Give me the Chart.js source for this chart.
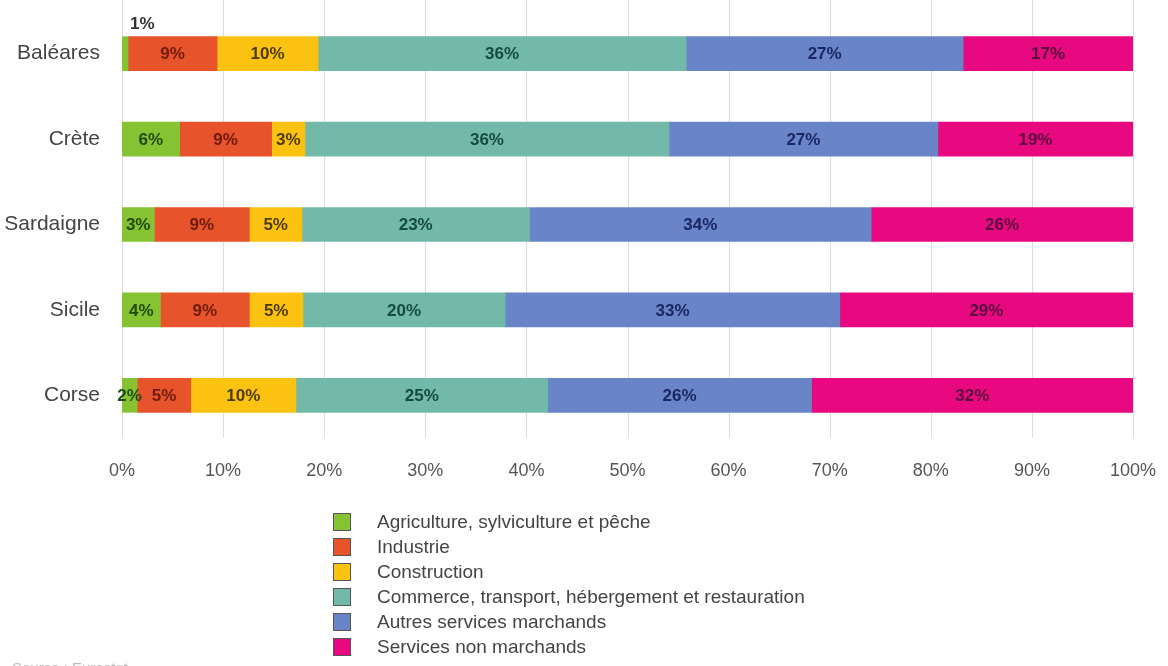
<!DOCTYPE html>
<html>
<head>
<meta charset="utf-8">
<script src="https://cdn.jsdelivr.net/npm/chart.js@4/dist/chart.umd.min.js"></script>
<style>
  html, body { margin: 0; padding: 0; background: #fff; }
  #wrap { position: relative; width: 1168px; height: 666px; overflow: hidden; }
  #legend { position: absolute; left: 333px; top: 509px; font-family: "Liberation Sans", Arial, sans-serif; font-size: 19px; color: #444; }
  #legend div { height: 25px; line-height: 25px; white-space: nowrap; }
  #legend span { display: inline-block; width: 16px; height: 16px; border: 1px solid #555; vertical-align: -3px; margin-right: 26px; }
  #source { position: absolute; left: 12px; top: 659px; font-family: "Liberation Sans", Arial, sans-serif; font-size: 15px; color: #bbb; }
</style>
</head>
<body>
<div id="wrap">
  <canvas id="myChart" width="1168" height="666"></canvas>
  <div id="legend"></div>
  <div id="source">Source : Eurostat</div>
</div>
<script>
var categories = ['Baléares', 'Crète', 'Sardaigne', 'Sicile', 'Corse'];
var seriesNames = [
    'Agriculture, sylviculture et pêche',
    'Industrie',
    'Construction',
    'Commerce, transport, hébergement et restauration',
    'Autres services marchands',
    'Services non marchands'
];
// shares in %
var agriculture = [0.6, 5.7, 3.2, 3.8, 1.5];
var industrie = [8.8, 9.1, 9.4, 8.8, 5.3];
var construction = [10.0, 3.3, 5.2, 5.3, 10.4];
var commerce = [36.4, 36.0, 22.5, 20.0, 24.9];
var autresServices = [27.4, 26.6, 33.8, 33.1, 26.1];
var nonMarchands = [16.8, 19.3, 25.9, 29.0, 31.8];
var xTicks = [0, 10, 20, 30, 40, 50, 60, 70, 80, 90, 100];

var colors = ['#86c332', '#e7542b', '#fbc212', '#72b9a9', '#6a84c8', '#e8087f'];
var labelColors = ['#1f4a12', '#6e1a0c', '#4e3a05', '#154a40', '#1a2762', '#5a0b3d'];
var allSeries = [agriculture, industrie, construction, commerce, autresServices, nonMarchands];

var FONT = '"Liberation Sans", Arial, sans-serif';

var gridPlugin = {
    id: 'gridLines',
    beforeDatasetsDraw: function (chart) {
        var ctx = chart.ctx;
        var xs = chart.scales.x;
        ctx.save();
        ctx.strokeStyle = '#d6dce8';
        ctx.lineWidth = 1;
        xTicks.forEach(function (t) {
            var x = Math.round(xs.getPixelForValue(t)) + 0.5;
            ctx.beginPath();
            ctx.moveTo(x, 0);
            ctx.lineTo(x, chart.chartArea.bottom);
            ctx.stroke();
        });
        ctx.restore();
    }
};

var labelPlugin = {
    id: 'barLabels',
    afterDatasetsDraw: function (chart) {
        var ctx = chart.ctx;
        ctx.save();
        ctx.font = 'bold 17px ' + FONT;
        ctx.textBaseline = 'middle';
        chart.data.datasets.forEach(function (ds, i) {
            var meta = chart.getDatasetMeta(i);
            meta.data.forEach(function (bar, j) {
                var v = ds.data[j];
                var txt = Math.round(v) + '%';
                if (v < 1) {
                    // too thin: label above the bar
                    ctx.fillStyle = '#333';
                    ctx.textAlign = 'left';
                    ctx.fillText(txt, bar.base + 8, bar.y - bar.height / 2 - 12);
                } else {
                    ctx.fillStyle = labelColors[i];
                    ctx.textAlign = 'center';
                    ctx.fillText(txt, (bar.x + bar.base) / 2, bar.y + 1);
                }
            });
        });
        ctx.restore();
    }
};

var ctx = document.getElementById('myChart').getContext('2d');
var myChart = new Chart(ctx, {
    type: 'bar',
    data: {
        labels: categories,
        datasets: allSeries.map(function (values, i) {
            return {
                label: seriesNames[i],
                data: values,
                backgroundColor: colors[i],
                borderWidth: 0,
                barThickness: 34
            };
        })
    },
    options: {
        indexAxis: 'y',
        responsive: false,
        animation: false,
        layout: {
            padding: { top: 11, right: 35, bottom: 188, left: 0 }
        },
        scales: {
            x: {
                stacked: true,
                min: 0,
                max: 100,
                grid: { display: false },
                border: { display: false },
                afterFit: function (scale) {
                    scale.height = 40;
                    scale.paddingLeft = 0;
                    scale.paddingRight = 0;
                },
                ticks: {
                    stepSize: 10,
                    padding: 14,
                    color: '#555',
                    font: { family: FONT, size: 18 },
                    callback: function (v) { return v + '%'; }
                }
            },
            y: {
                stacked: true,
                grid: { display: false },
                border: { display: false },
                afterFit: function (scale) {
                    scale.width = 122;
                    scale.paddingTop = 0;
                    scale.paddingBottom = 0;
                },
                ticks: {
                    padding: 14,
                    color: '#444',
                    font: { family: FONT, size: 21 }
                }
            }
        },
        plugins: {
            legend: { display: false },
            tooltip: { enabled: false }
        }
    },
    plugins: [gridPlugin, labelPlugin]
});

// vertical legend under the chart
var legendBox = document.getElementById('legend');
myChart.data.datasets.forEach(function (ds) {
    var row = document.createElement('div');
    var sw = document.createElement('span');
    sw.style.background = ds.backgroundColor;
    row.appendChild(sw);
    row.appendChild(document.createTextNode(ds.label));
    legendBox.appendChild(row);
});
</script>
</body>
</html>
